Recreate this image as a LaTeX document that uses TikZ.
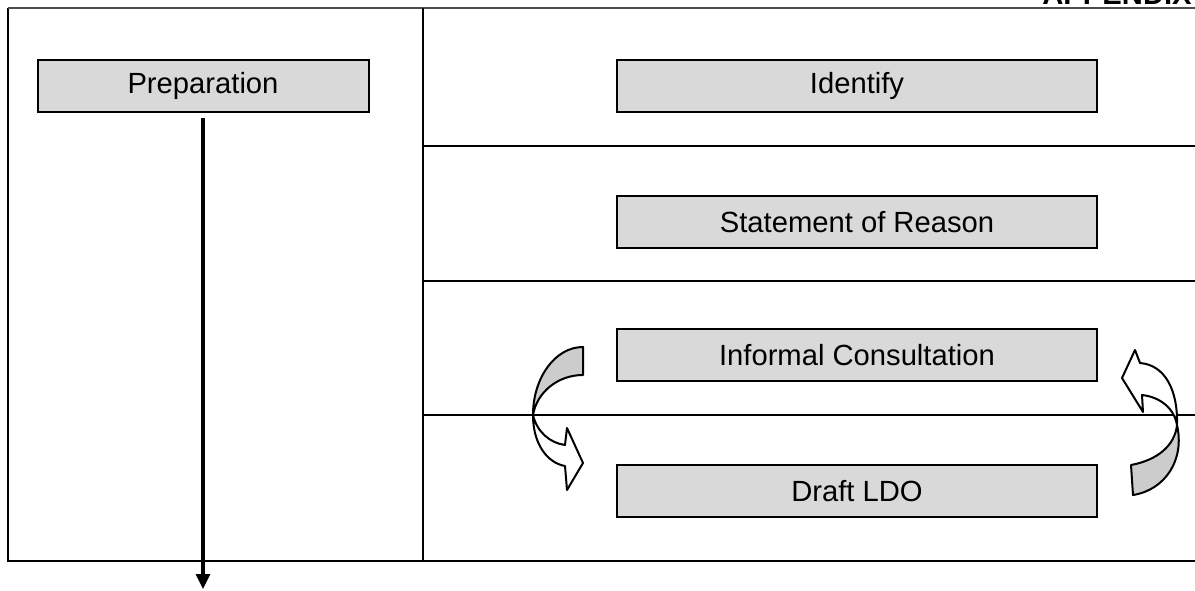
\documentclass[tikz,border=0pt]{standalone}
\usepackage{fontspec}
\setmainfont{Liberation Sans}
\usepackage{tikz}
\definecolor{boxgray}{RGB}{217, 217, 217}
\definecolor{backgray}{RGB}{204, 204, 204}
\usetikzlibrary{arrows.meta}

\begin{document}
\begin{tikzpicture}[x=0.5pt, y=-0.5pt,
			>={Triangle[width=7pt,length=7.5pt]},   %default arrow tip
			stepbox/.style={draw, line width=1pt, fill=boxgray, minimum width=240pt, minimum height=26pt, inner sep=0pt},
			rule/.style={line width=0.75pt},
			curvearrow/.style={draw, line width=1pt, line join=round},
			font=\fontsize{14.6}{17}\selectfont]
			\useasboundingbox (0,0) rectangle (1195,590);
			% table frame
			\draw[rule] (8,8) -- (8,561) -- (1195,561);
			\draw[line width=1.1pt, black!70] (8,8) -- (1195,8);
			\draw[rule] (423,8) -- (423,561);
			\foreach \y in {146,281,415} \draw[rule] (423,\y) -- (1195,\y);
			% heading, runs off the page
			\node[anchor=base west, inner sep=0pt, font=\fontsize{14.6}{17}\selectfont\bfseries] (appx) at (1042,4) {APPENDIX};
			% steps
			\node[stepbox, minimum width=165.5pt] (prep) at (203,86) {Preparation};
			\node[stepbox] (ident) at (857,86) {Identify};
			\node[stepbox] (stmt) at (857,222) {Statement of Reason};
			\node[stepbox] (consult) at (857,355) {Informal Consultation};
			\node[stepbox] (draft) at (857,491) {Draft LDO};
			% downward arrow
			\coordinate (prepend) at (203,589);
			\draw[->, line width=1.6pt] ([yshift=-2.5pt]prep.south) -- (prepend);
			% curved arrow, left side
			\path[curvearrow, fill=backgray] (583,347) .. controls (555,347) and (533,378) .. (533,415)
				.. controls (537,392) and (558,375) .. (583,375) -- cycle;
			\path[curvearrow, fill=white] (533,415) .. controls (533,445) and (548,463) .. (565,466)
				-- (567,490) -- (583,463) -- (567,428) -- (565,445)
				.. controls (550,443) and (537,432) .. (533,415) -- cycle;
			% curved arrow, right side
			\path[curvearrow, fill=backgray] (1131,465) .. controls (1158,460) and (1175,445) .. (1177,425)
				.. controls (1185,460) and (1165,490) .. (1133,495) -- cycle;
			\path[curvearrow, fill=white] (1177,425) .. controls (1178,390) and (1165,365) .. (1140,363)
				-- (1135,350) -- (1122,378) -- (1143,412) -- (1142,395)
				.. controls (1160,397) and (1174,408) .. (1177,425) -- cycle;
		\end{tikzpicture}
\end{document}
